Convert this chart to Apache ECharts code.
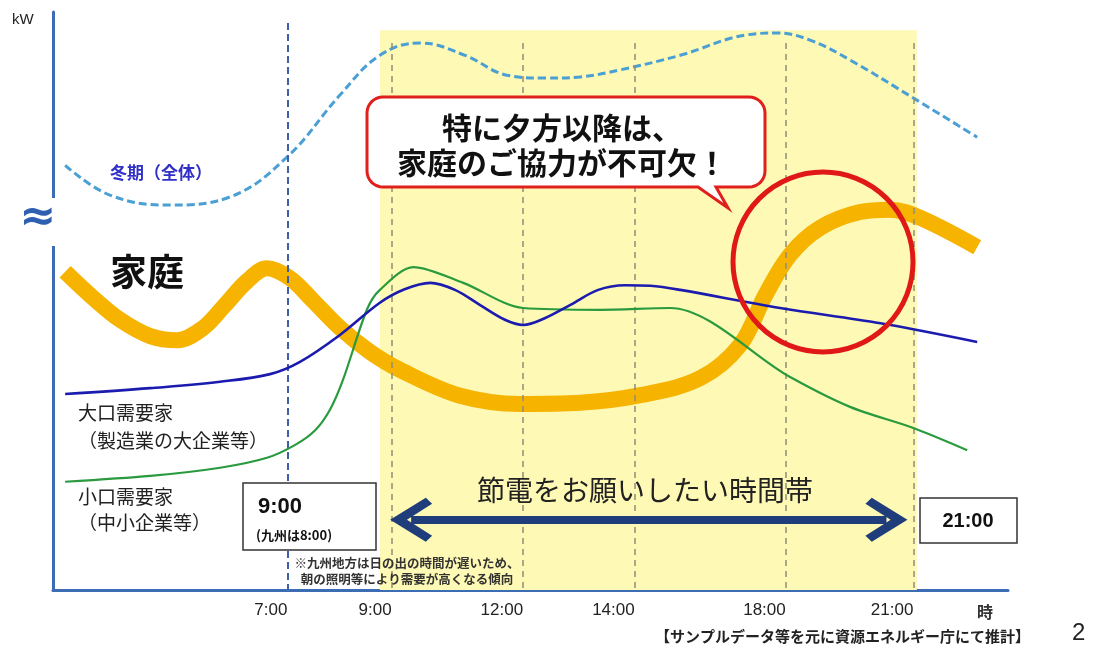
<!DOCTYPE html>
<html><head><meta charset="utf-8">
<script src="https://cdn.jsdelivr.net/npm/echarts@6/dist/echarts.min.js"></script>
<style>html,body{margin:0;padding:0;background:#fff}#c{width:1105px;height:652px}</style>
</head><body><div id="c"></div>
<script>
// ---- data (x = hour of day on the chart's scale, y = relative demand, conceptual) ----
const winterHours = [1.48, 2.51, 3.9, 5.28, 6.59, 7.81, 8.73, 9.66, 10.69, 11.66, 12.54, 13.34, 14.26, 15.65, 17.19, 17.88, 18.64, 19.56, 21.02, 22.49];
const winterLoad  = [73.8, 68.7, 67.0, 68.4, 75.2, 85.8, 92.6, 94.7, 92.6, 89.2, 88.7, 88.9, 90.1, 92.6, 96.1, 96.4, 95.2, 91.8, 85.3, 78.6];

const homeHours = [1.48, 2.10, 2.74, 3.44, 4.06, 4.66, 5.16, 5.67, 6.13, 6.66, 7.17, 7.81, 8.5, 9.2, 10.58, 11.96, 13.34, 14.73, 16.11, 17.03, 17.61, 18.18, 18.87, 19.79, 20.49, 21.18, 22.49];
const homeLoad  = [55.6, 51.3, 47.4, 44.6, 43.9, 46.0, 49.9, 54.0, 56.2, 54.5, 50.8, 46.0, 41.9, 38.8, 34.4, 33.0, 33.2, 34.5, 37.4, 43.1, 51.6, 58.5, 63.1, 65.8, 66.2, 64.8, 59.8];

const largeHours = [1.48, 3.44, 5.05, 6.2, 6.89, 7.81, 8.73, 9.3, 9.89, 10.46, 11.04, 11.61, 12.03, 12.54, 13.11, 13.76, 14.38, 14.96, 15.65, 17.95, 20.26, 22.49];
const largeLoad  = [34.7, 35.7, 36.8, 38.1, 40.2, 44.8, 50.3, 52.6, 53.7, 52.5, 49.9, 47.4, 46.5, 47.7, 49.9, 52.5, 53.3, 53.2, 52.5, 49.4, 46.8, 43.6];

const smallHours = [1.48, 3.44, 5.05, 6.13, 6.78, 7.24, 7.58, 7.88, 8.43, 8.73, 9.5, 10.65, 12.03, 13.8, 15.42, 18.18, 19.56, 21.02, 22.26];
const smallLoad  = [19.7, 20.7, 22.1, 23.8, 26.0, 28.5, 32.0, 37.1, 49.1, 52.5, 56.4, 53.7, 49.4, 49.1, 49.4, 37.6, 32.5, 28.9, 25.1];

const timeTickHours  = [6.6, 9, 12.03, 14.6, 18.08, 21.02];
const timeTickLabels = ['7:00', '9:00', '12:00', '14:00', '18:00', '21:00'];
const bandHours  = [8.73, 21.1];
const arrowHours = [9.45, 20.4];

const pairs = (xs, ys) => xs.map((x, i) => [x, ys[i]]);

const JP = '"Noto Sans CJK JP", "Noto Sans", sans-serif';
const LAT = '"Liberation Sans", Arial, sans-serif';

// speech-bubble outline (rounded rectangle with a tail) as polygon points
function bubblePoints(x, y, w, h, r, tail) {
  const pts = [];
  const arc = (cx, cy, a0, a1) => { for (let k = 0; k <= 8; k++) { const a = a0 + (a1 - a0) * k / 8; pts.push([cx + r * Math.cos(a), cy + r * Math.sin(a)]); } };
  arc(x + r, y + r, Math.PI, Math.PI * 1.5);
  arc(x + w - r, y + r, Math.PI * 1.5, Math.PI * 2);
  arc(x + w - r, y + h - r, 0, Math.PI * 0.5);
  pts.push([tail[1], y + h], [tail[2], tail[3]], [tail[0], y + h]);
  arc(x + r, y + h - r, Math.PI * 0.5, Math.PI);
  return pts;
}

const chart = echarts.init(document.getElementById('c'), null, {renderer: 'canvas'});

const vLines = timeTickHours.map((h, i) => [
  {coord: [h, i === 0 ? 98.1 : 94.7],
   lineStyle: i === 0 ? {color: '#3e5fa8', type: [7, 4], width: 2} : {color: '#8f8f78', type: [6, 5], width: 1.5}},
  {coord: [h, 1.2]}
]);

const chevron = 'path://M22,0 L44,34 L38,40 L22,16 L6,40 L0,34 Z';

const graphics = [
  {type: 'text', x: 12, y: 20, style: {text: 'kW', fontSize: 15, fill: '#222', verticalAlign: 'middle', fontFamily: LAT}},
  {type: 'rect', shape: {x: 44, y: 198, width: 18, height: 48}, style: {fill: '#fff'}},
  {type: 'text', x: 38, y: 219, style: {text: '≈', fontSize: 44, fontWeight: 'bold', fill: '#2f5fb0', align: 'center', verticalAlign: 'middle', fontFamily: '"DejaVu Sans", sans-serif'}},
  {type: 'text', x: 110, y: 173, style: {text: '冬期（全体）', fontSize: 17, fontWeight: 'bold', fill: '#3030c8', verticalAlign: 'middle', fontFamily: JP}},
  {type: 'text', x: 110, y: 272, style: {text: '家庭', fontSize: 37, fontWeight: 'bold', fill: '#111', verticalAlign: 'middle', fontFamily: JP}},
  {type: 'text', x: 78, y: 413, style: {text: '大口需要家', fontSize: 19, fill: '#222', verticalAlign: 'middle', fontFamily: JP}},
  {type: 'text', x: 78, y: 441, style: {text: '（製造業の大企業等）', fontSize: 19, fill: '#222', verticalAlign: 'middle', fontFamily: JP}},
  {type: 'text', x: 78, y: 497, style: {text: '小口需要家', fontSize: 19, fill: '#222', verticalAlign: 'middle', fontFamily: JP}},
  {type: 'text', x: 78, y: 523, style: {text: '（中小企業等）', fontSize: 19, fill: '#222', verticalAlign: 'middle', fontFamily: JP}},
  {type: 'rect', shape: {x: 243, y: 483, width: 133, height: 67}, style: {fill: '#fff', stroke: '#333', lineWidth: 1.5}},
  {type: 'text', x: 258, y: 507, style: {text: '9:00', fontSize: 22, fontWeight: 'bold', fill: '#111', verticalAlign: 'middle', fontFamily: LAT}},
  {type: 'text', x: 256, y: 535, style: {text: '(九州は8:00)', fontSize: 13, fontWeight: 'bold', fill: '#111', verticalAlign: 'middle', fontFamily: JP}},
  {type: 'text', x: 407, y: 563, style: {text: '※九州地方は日の出の時間が遅いため、', fontSize: 12.5, fontWeight: 'bold', fill: '#333', align: 'center', verticalAlign: 'middle', fontFamily: JP}},
  {type: 'text', x: 407, y: 579, style: {text: '朝の照明等により需要が高くなる傾向', fontSize: 12.5, fontWeight: 'bold', fill: '#333', align: 'center', verticalAlign: 'middle', fontFamily: JP}},
  {type: 'text', x: 645, y: 490, style: {text: '節電をお願いしたい時間帯', fontSize: 28, fill: '#222', align: 'center', verticalAlign: 'middle', fontFamily: JP}},
  {type: 'rect', shape: {x: 920, y: 498, width: 97, height: 45}, style: {fill: '#fff', stroke: '#333', lineWidth: 1.5}},
  {type: 'text', x: 968, y: 521, style: {text: '21:00', fontSize: 20, fontWeight: 'bold', fill: '#111', align: 'center', verticalAlign: 'middle', fontFamily: LAT}},
  {type: 'polygon', shape: {points: bubblePoints(367, 97, 398, 90, 16, [698, 716, 728, 208])},
    style: {fill: '#fff', stroke: '#e0201c', lineWidth: 3}},
  {type: 'text', x: 562, y: 128, style: {text: '特に夕方以降は、', fontSize: 30, fontWeight: 'bold', fill: '#111', align: 'center', verticalAlign: 'middle', fontFamily: JP}},
  {type: 'text', x: 562, y: 163, style: {text: '家庭のご協力が不可欠！', fontSize: 30, fontWeight: 'bold', fill: '#111', align: 'center', verticalAlign: 'middle', fontFamily: JP}},
  {type: 'circle', shape: {cx: 823, cy: 262, r: 90}, style: {fill: 'none', stroke: '#e01818', lineWidth: 5}},
  {type: 'text', x: 985, y: 612, style: {text: '時', fontSize: 16, fontWeight: 'bold', fill: '#333', align: 'center', verticalAlign: 'middle', fontFamily: JP}},
  {type: 'text', x: 655, y: 636, style: {text: '【サンプルデータ等を元に資源エネルギー庁にて推計】', fontSize: 15, fontWeight: 'bold', fill: '#222', verticalAlign: 'middle', fontFamily: JP}},
  {type: 'text', x: 1072, y: 633, style: {text: '2', fontSize: 24, fill: '#222', verticalAlign: 'middle', fontFamily: LAT}}
].map((g, i) => Object.assign({z: 100 + i}, g));

chart.setOption({
  animation: false,
  backgroundColor: '#fff',
  grid: {left: 53, right: 97, top: 12, bottom: 62, containLabel: false},
  xAxis: {
    type: 'value', min: 1.2, max: 23.2,
    axisLine: {show: true, lineStyle: {color: '#3c6cb4', width: 3}},
    axisTick: {show: false},
    splitLine: {show: false},
    axisLabel: {
      customValues: timeTickHours,
      formatter: v => { const i = timeTickHours.findIndex(t => Math.abs(t - v) < 1e-6); return i >= 0 ? timeTickLabels[i] : ''; },
      align: 'right', margin: 12, fontSize: 17, color: '#222', fontFamily: LAT
    }
  },
  yAxis: {
    type: 'value', min: 1.2, max: 100,
    axisLine: {show: true, lineStyle: {color: '#3c6cb4', width: 3}},
    axisTick: {show: false}, axisLabel: {show: false}, splitLine: {show: false}
  },
  series: [
    {
      type: 'line', data: [], z: 1, silent: true,
      markArea: {silent: true, itemStyle: {color: '#fef9b4'},
        data: [[{coord: [bandHours[0], 1.2]}, {coord: [bandHours[1], 96.9]}]]},
      markLine: {silent: true, symbol: 'none', label: {show: false}, data: vLines}
    },
    {
      name: '冬期（全体）', type: 'line', smooth: 0.4, showSymbol: false, z: 3,
      data: pairs(winterHours, winterLoad),
      lineStyle: {color: '#4a9fd4', width: 3, type: [8, 4]}
    },
    {
      name: '家庭', type: 'line', smooth: 0.35, showSymbol: false, z: 4,
      data: pairs(homeHours, homeLoad),
      lineStyle: {color: '#f6b300', width: 16}
    },
    {
      name: '小口需要家', type: 'line', smooth: 0.3, showSymbol: false, z: 5,
      data: pairs(smallHours, smallLoad),
      lineStyle: {color: '#2a9a3e', width: 2.2}
    },
    {
      name: '大口需要家', type: 'line', smooth: 0.35, showSymbol: false, z: 6,
      data: pairs(largeHours, largeLoad),
      lineStyle: {color: '#1b1bb0', width: 2.6},
      markLine: {
        silent: true, symbol: [chevron, chevron], symbolSize: [44, 42],
        label: {show: false},
        lineStyle: {color: '#1f3d7a', width: 8, type: 'solid'},
        data: [[{coord: [arrowHours[0], 13.2]}, {coord: [arrowHours[1], 13.2]}]]
      }
    }
  ],
  graphic: {elements: graphics}
});
</script></body></html>
